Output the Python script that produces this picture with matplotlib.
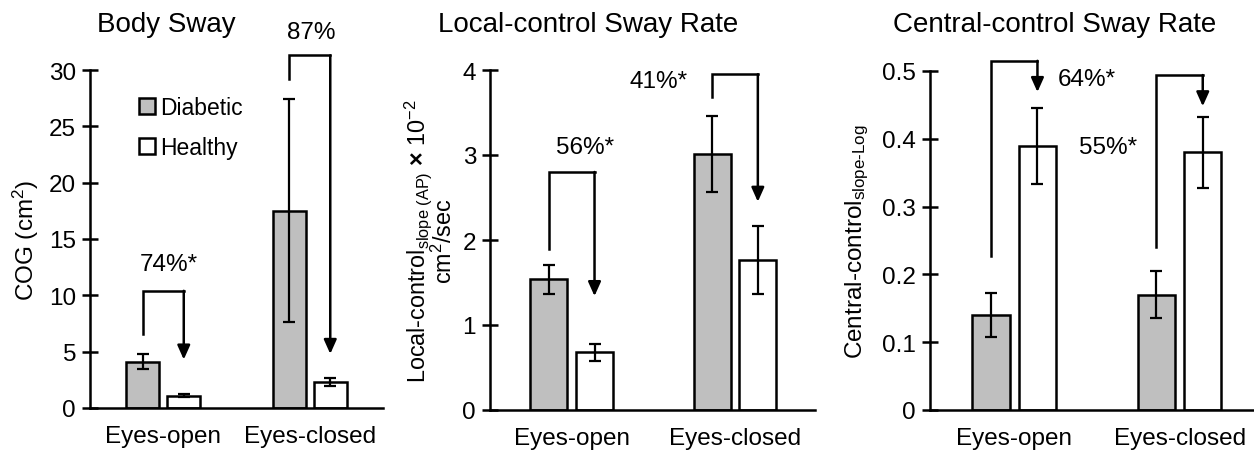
import matplotlib
matplotlib.use("Agg")
import matplotlib.pyplot as plt
import numpy as np

plt.rcParams['font.family'] = ['Liberation Sans', 'DejaVu Sans']
plt.rcParams['mathtext.fontset'] = 'custom'
plt.rcParams['mathtext.rm'] = 'Liberation Sans'
plt.rcParams['mathtext.it'] = 'Liberation Sans:italic'
plt.rcParams['mathtext.bf'] = 'Liberation Sans:bold'

# Data
groups = ['Eyes-open', 'Eyes-closed']
series = ['Diabetic', 'Healthy']

sway_diab = [4.1, 17.5]
sway_diab_err = [0.65, 9.9]
sway_heal = [1.1, 2.3]
sway_heal_err = [0.15, 0.35]

local_diab = [1.54, 3.01]
local_diab_err = [0.17, 0.45]
local_heal = [0.68, 1.77]
local_heal_err = [0.10, 0.40]

central_diab = [0.14, 0.17]
central_diab_err = [0.033, 0.035]
central_heal = [0.39, 0.38]
central_heal_err = [0.056, 0.052]

sway_ticks = [0, 5, 10, 15, 20, 25, 30]
local_ticks = [0, 1, 2, 3, 4]
central_ticks = [0, 0.1, 0.2, 0.3, 0.4, 0.5]
central_ticklabels = ['0', '0.1', '0.2', '0.3', '0.4', '0.5']

# bracket annotations: (label, leg bottom, bracket top, arrow tip)
sway_notes = [('74%*', 6.6, 10.4, 4.3), ('87%', 29.2, 31.3, 4.8)]
local_notes = [('56%*', 1.89, 2.8, 1.34), ('41%*', 3.68, 3.95, 2.45)]
central_notes = [('64%*', 0.227, 0.515, 0.469), ('55%*', 0.240, 0.494, 0.448)]
# label positions (x in group units, y in data units)
sway_lab = [(0.04, 12.8), (1.01, 33.4)]
local_lab = [(0.08, 3.1), (0.53, 3.87)]
central_lab = [(0.44, 0.488), (0.565, 0.388)]

W, H = 1254, 452
fig = plt.figure(figsize=(W / 100, H / 100), dpi=100)

x = np.arange(len(groups))
off = 0.14
bw = 0.226
gray = '#bfbfbf'
fs = 17.5


def panel(rect, diab, derr, heal, herr, ylim, ticks, ticklabels, xlim):
    ax = fig.add_axes(rect)
    ax.bar(x - off, diab, bw, color=gray, edgecolor='black', linewidth=1.8,
           label=series[0], zorder=2)
    ax.bar(x + off, heal, bw, color='white', edgecolor='black', linewidth=1.8,
           label=series[1], zorder=2)
    ax.errorbar(x - off, diab, yerr=derr, fmt='none', ecolor='black',
                elinewidth=1.6, capsize=4.5, capthick=1.6, zorder=3)
    ax.errorbar(x + off, heal, yerr=herr, fmt='none', ecolor='black',
                elinewidth=1.6, capsize=4.5, capthick=1.6, zorder=3)
    ax.set_xlim(*xlim)
    ax.set_ylim(*ylim)
    ax.set_yticks(ticks)
    ax.set_yticklabels(ticklabels)
    ax.set_xticks(x)
    ax.set_xticklabels(groups)
    ax.spines['top'].set_visible(False)
    ax.spines['right'].set_visible(False)
    ax.spines['left'].set_linewidth(1.8)
    ax.spines['bottom'].set_linewidth(1.8)
    ax.tick_params(axis='y', direction='inout', length=12, width=1.8,
                   labelsize=fs, pad=4)
    ax.tick_params(axis='x', length=0, labelsize=fs, pad=12)
    return ax


def brackets(ax, notes, labs, fsz=fs):
    for i, ((txt, y0, ytop, ytip), (lx, ly)) in enumerate(zip(notes, labs)):
        x0 = x[i] - off
        x1 = x[i] + off
        ax.plot([x0, x0, x1], [y0, ytop, ytop], color='black', lw=1.8,
                clip_on=False, solid_joinstyle='miter', zorder=4)
        ax.annotate('', xy=(x1, ytip), xytext=(x1, ytop),
                    arrowprops=dict(arrowstyle='-|>,head_width=0.38,head_length=0.85',
                                    lw=1.8, color='black', shrinkA=0, shrinkB=0),
                    annotation_clip=False, zorder=4)
        ax.text(lx, ly, txt, ha='center', va='center', fontsize=fsz,
                clip_on=False)


ax1 = panel([90 / W, 1 - 409 / H, 293 / W, 338 / H], sway_diab, sway_diab_err,
            sway_heal, sway_heal_err, (0, 30), sway_ticks,
            [str(t) for t in sway_ticks], (-0.5, 1.5))
brackets(ax1, sway_notes, sway_lab)
ax1.set_ylabel('COG (cm$^{\\mathregular{2}}$)', fontsize=fs, labelpad=6)
ax1.legend(loc='upper left', bbox_to_anchor=(0.135, 0.95), frameon=False,
           fontsize=16.5, handlelength=0.7, handleheight=0.7, handletextpad=0.25,
           labelspacing=0.75, borderaxespad=0)

ax2 = panel([490 / W, 1 - 411 / H, 325 / W, 340 / H], local_diab, local_diab_err,
            local_heal, local_heal_err, (0, 4), local_ticks,
            [str(t) for t in local_ticks], (-0.5, 1.49))
brackets(ax2, local_notes, local_lab)
ax2.set_ylabel('Local-control$_{\\mathregular{slope\\ (AP)}}$ $\\mathbf{\\times}$ 10$^{\\mathregular{-2}}$\n'
               'cm$^{\\mathregular{2}}$/sec', fontsize=16.8, labelpad=4, linespacing=0.9)

ax3 = panel([930 / W, 1 - 411 / H, 324 / W, 339 / H], central_diab,
            central_diab_err, central_heal, central_heal_err, (0, 0.5),
            central_ticks, central_ticklabels, (-0.51, 1.45))
brackets(ax3, central_notes, central_lab)
ax3.set_ylabel('Central-control$_{\\mathregular{slope‐Log}}$', fontsize=fs,
               labelpad=8)

fig.text(166 / W, 1 - 25 / H, 'Body Sway', ha='center', va='center', fontsize=20)
fig.text(588 / W, 1 - 25 / H, 'Local-control Sway Rate', ha='center',
         va='center', fontsize=20)
fig.text(1055 / W, 1 - 25 / H, 'Central-control Sway Rate', ha='center',
         va='center', fontsize=20)

fig.savefig('out.png', dpi=100)
